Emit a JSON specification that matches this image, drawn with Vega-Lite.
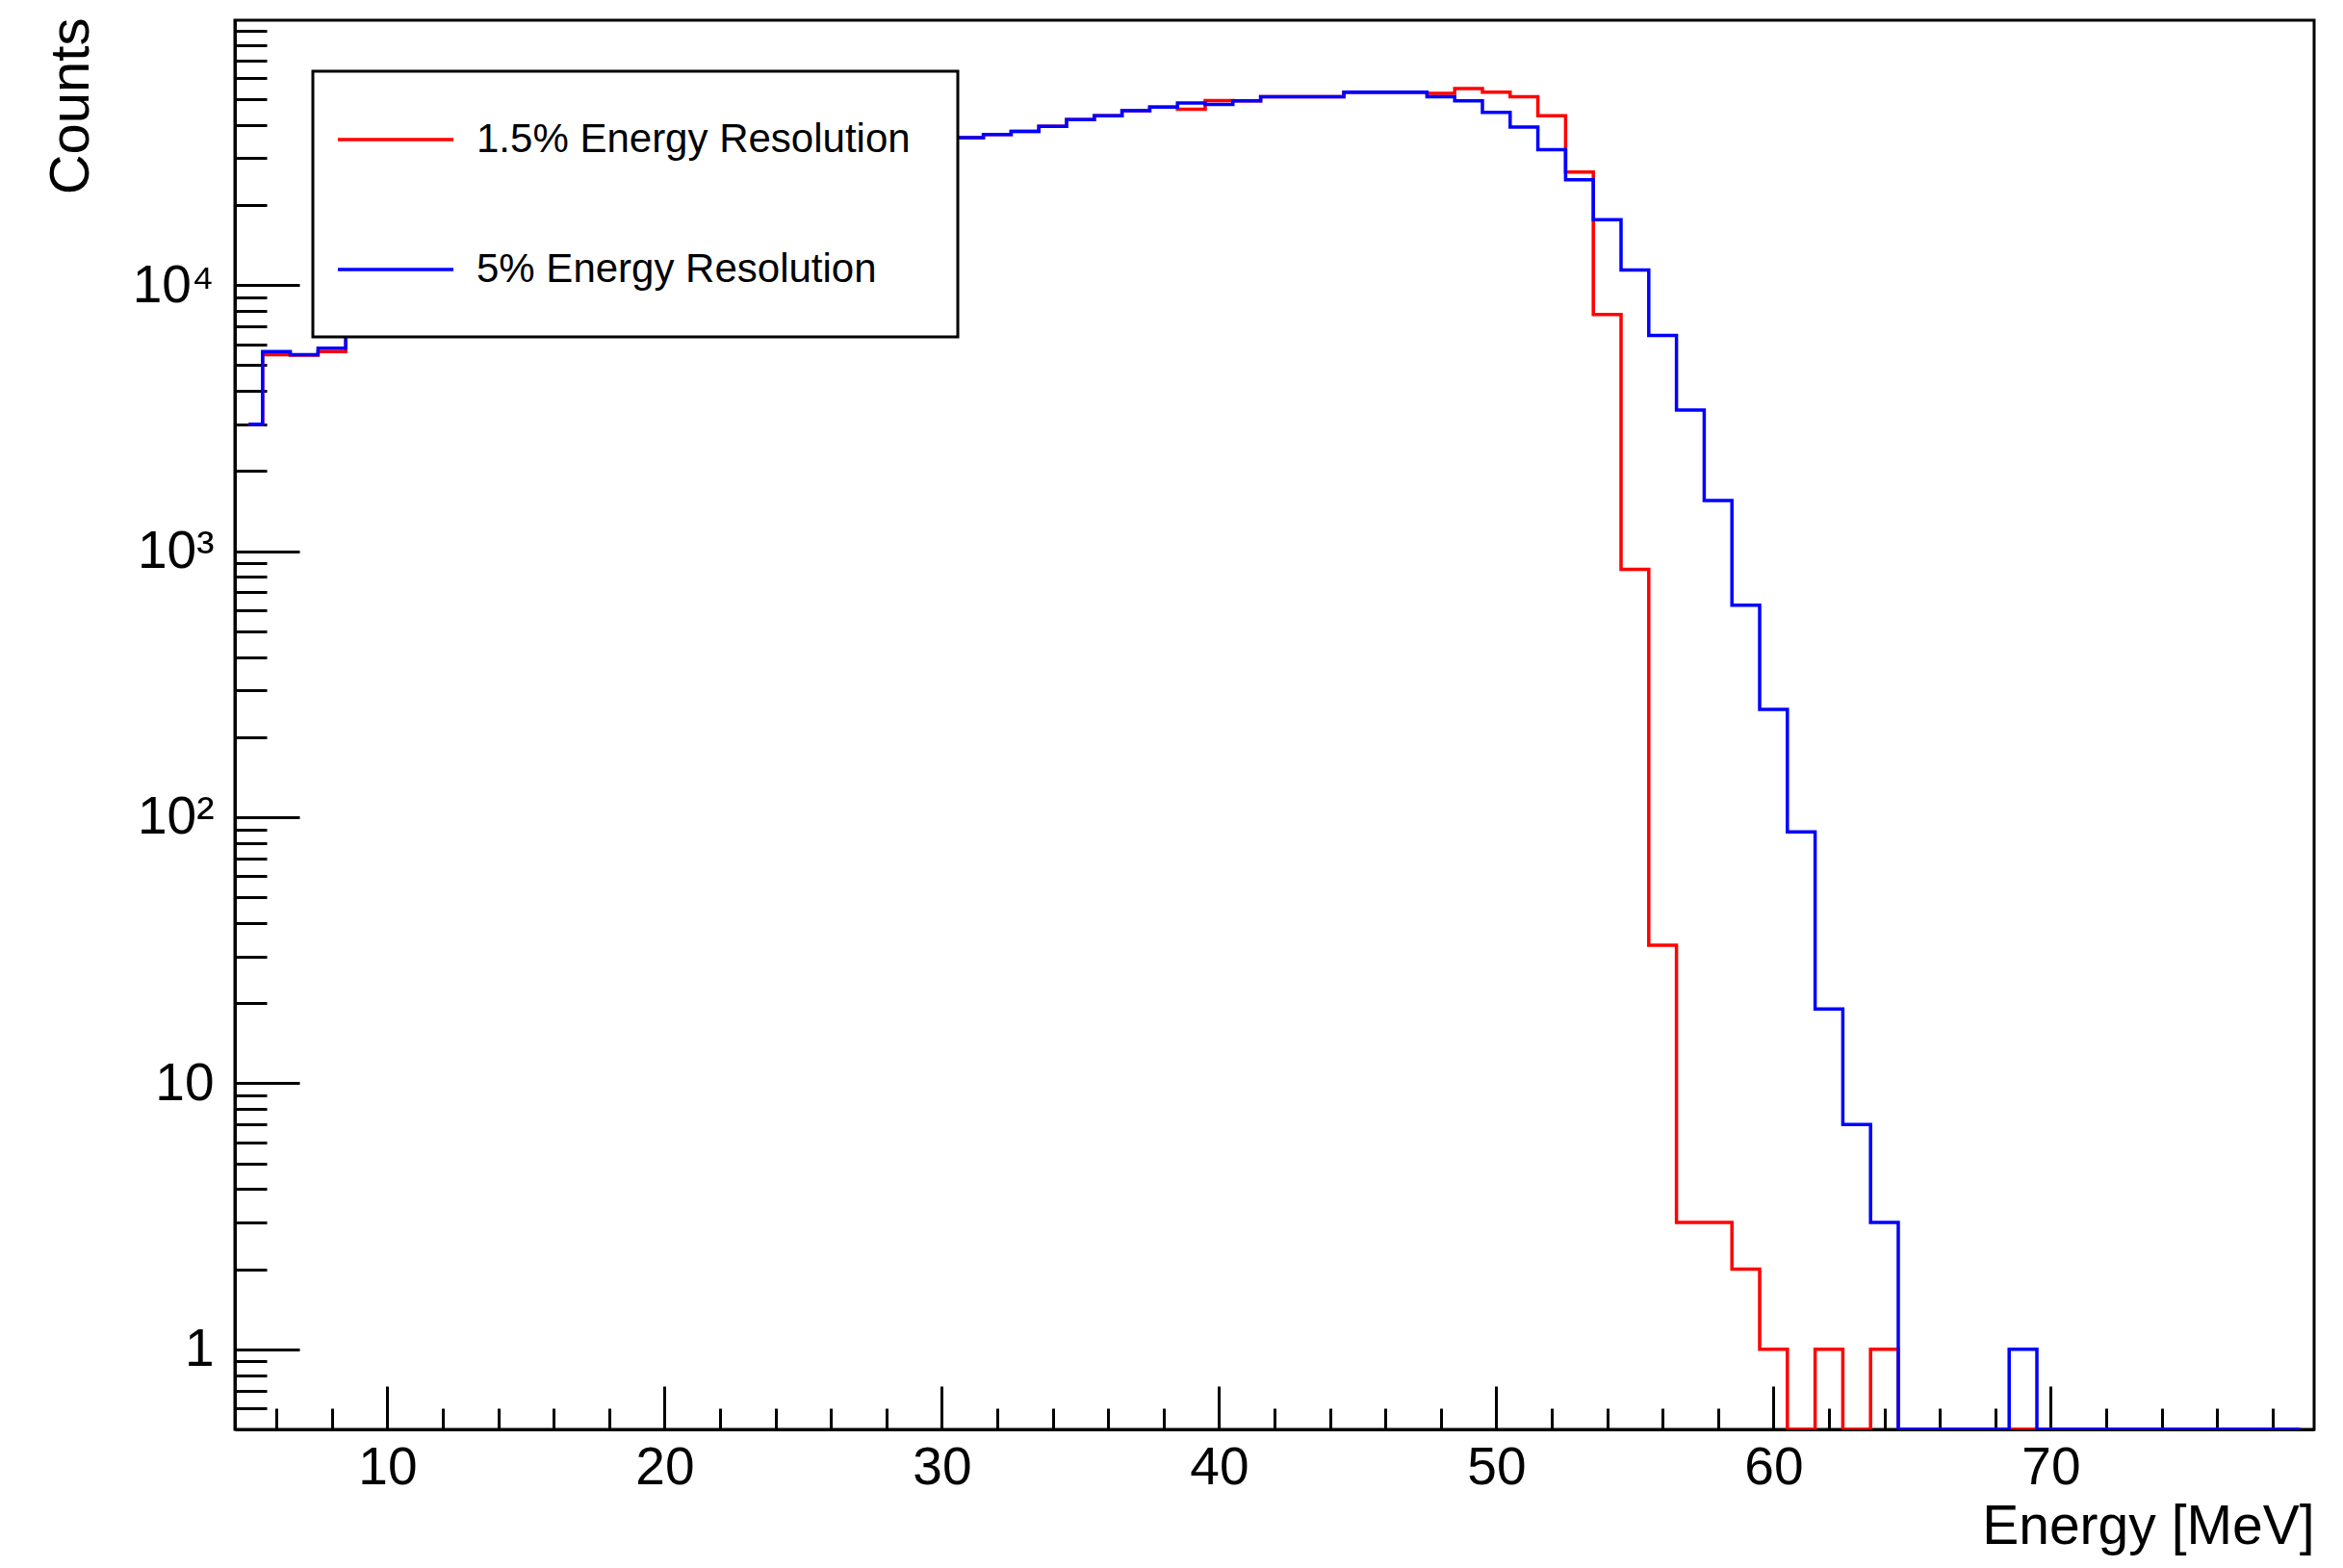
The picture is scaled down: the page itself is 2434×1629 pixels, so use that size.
{
  "$schema": "https://vega.github.io/schema/vega-lite/v6.json",
  "width": 2160,
  "height": 1464,
  "autosize": {"type": "none"},
  "padding": {"left": 244, "top": 21, "right": 30, "bottom": 144},
  "background": "white",
  "config": {
    "view": {"stroke": "black", "strokeWidth": 3},
    "font": "Liberation Sans"
  },
  "data": {
    "values": [
      {"energy":5,"counts":3000,"series":"1.5% Energy Resolution"},
      {"energy":6,"counts":5480,"series":"1.5% Energy Resolution"},
      {"energy":7,"counts":5450,"series":"1.5% Energy Resolution"},
      {"energy":8,"counts":5620,"series":"1.5% Energy Resolution"},
      {"energy":9,"counts":7600,"series":"1.5% Energy Resolution"},
      {"energy":10,"counts":8300,"series":"1.5% Energy Resolution"},
      {"energy":11,"counts":9200,"series":"1.5% Energy Resolution"},
      {"energy":12,"counts":10200,"series":"1.5% Energy Resolution"},
      {"energy":13,"counts":11400,"series":"1.5% Energy Resolution"},
      {"energy":14,"counts":12700,"series":"1.5% Energy Resolution"},
      {"energy":15,"counts":14000,"series":"1.5% Energy Resolution"},
      {"energy":16,"counts":15400,"series":"1.5% Energy Resolution"},
      {"energy":17,"counts":16800,"series":"1.5% Energy Resolution"},
      {"energy":18,"counts":18200,"series":"1.5% Energy Resolution"},
      {"energy":19,"counts":19600,"series":"1.5% Energy Resolution"},
      {"energy":20,"counts":21000,"series":"1.5% Energy Resolution"},
      {"energy":21,"counts":22400,"series":"1.5% Energy Resolution"},
      {"energy":22,"counts":23800,"series":"1.5% Energy Resolution"},
      {"energy":23,"counts":25200,"series":"1.5% Energy Resolution"},
      {"energy":24,"counts":26500,"series":"1.5% Energy Resolution"},
      {"energy":25,"counts":27800,"series":"1.5% Energy Resolution"},
      {"energy":26,"counts":29100,"series":"1.5% Energy Resolution"},
      {"energy":27,"counts":30400,"series":"1.5% Energy Resolution"},
      {"energy":28,"counts":31600,"series":"1.5% Energy Resolution"},
      {"energy":29,"counts":32800,"series":"1.5% Energy Resolution"},
      {"energy":30,"counts":34200,"series":"1.5% Energy Resolution"},
      {"energy":31,"counts":35800,"series":"1.5% Energy Resolution"},
      {"energy":32,"counts":36800,"series":"1.5% Energy Resolution"},
      {"energy":33,"counts":37800,"series":"1.5% Energy Resolution"},
      {"energy":34,"counts":39500,"series":"1.5% Energy Resolution"},
      {"energy":35,"counts":41900,"series":"1.5% Energy Resolution"},
      {"energy":36,"counts":43300,"series":"1.5% Energy Resolution"},
      {"energy":37,"counts":45200,"series":"1.5% Energy Resolution"},
      {"energy":38,"counts":46700,"series":"1.5% Energy Resolution"},
      {"energy":39,"counts":45800,"series":"1.5% Energy Resolution"},
      {"energy":40,"counts":49400,"series":"1.5% Energy Resolution"},
      {"energy":41,"counts":49300,"series":"1.5% Energy Resolution"},
      {"energy":42,"counts":51100,"series":"1.5% Energy Resolution"},
      {"energy":43,"counts":51100,"series":"1.5% Energy Resolution"},
      {"energy":44,"counts":51100,"series":"1.5% Energy Resolution"},
      {"energy":45,"counts":53000,"series":"1.5% Energy Resolution"},
      {"energy":46,"counts":53000,"series":"1.5% Energy Resolution"},
      {"energy":47,"counts":53000,"series":"1.5% Energy Resolution"},
      {"energy":48,"counts":52600,"series":"1.5% Energy Resolution"},
      {"energy":49,"counts":54800,"series":"1.5% Energy Resolution"},
      {"energy":50,"counts":53100,"series":"1.5% Energy Resolution"},
      {"energy":51,"counts":51100,"series":"1.5% Energy Resolution"},
      {"energy":52,"counts":43300,"series":"1.5% Energy Resolution"},
      {"energy":53,"counts":26600,"series":"1.5% Energy Resolution"},
      {"energy":54,"counts":7750,"series":"1.5% Energy Resolution"},
      {"energy":55,"counts":855,"series":"1.5% Energy Resolution"},
      {"energy":56,"counts":33,"series":"1.5% Energy Resolution"},
      {"energy":57,"counts":3,"series":"1.5% Energy Resolution"},
      {"energy":58,"counts":3,"series":"1.5% Energy Resolution"},
      {"energy":59,"counts":2,"series":"1.5% Energy Resolution"},
      {"energy":60,"counts":1,"series":"1.5% Energy Resolution"},
      {"energy":61,"counts":0,"series":"1.5% Energy Resolution"},
      {"energy":62,"counts":1,"series":"1.5% Energy Resolution"},
      {"energy":63,"counts":0,"series":"1.5% Energy Resolution"},
      {"energy":64,"counts":1,"series":"1.5% Energy Resolution"},
      {"energy":65,"counts":0,"series":"1.5% Energy Resolution"},
      {"energy":66,"counts":0,"series":"1.5% Energy Resolution"},
      {"energy":67,"counts":0,"series":"1.5% Energy Resolution"},
      {"energy":68,"counts":0,"series":"1.5% Energy Resolution"},
      {"energy":69,"counts":0,"series":"1.5% Energy Resolution"},
      {"energy":70,"counts":0,"series":"1.5% Energy Resolution"},
      {"energy":71,"counts":0,"series":"1.5% Energy Resolution"},
      {"energy":72,"counts":0,"series":"1.5% Energy Resolution"},
      {"energy":73,"counts":0,"series":"1.5% Energy Resolution"},
      {"energy":74,"counts":0,"series":"1.5% Energy Resolution"},
      {"energy":75,"counts":0,"series":"1.5% Energy Resolution"},
      {"energy":76,"counts":0,"series":"1.5% Energy Resolution"},
      {"energy":77,"counts":0,"series":"1.5% Energy Resolution"},
      {"energy":78,"counts":0,"series":"1.5% Energy Resolution"},
      {"energy":79,"counts":0,"series":"1.5% Energy Resolution"},
      {"energy":5,"counts":3000,"series":"5% Energy Resolution"},
      {"energy":6,"counts":5620,"series":"5% Energy Resolution"},
      {"energy":7,"counts":5470,"series":"5% Energy Resolution"},
      {"energy":8,"counts":5790,"series":"5% Energy Resolution"},
      {"energy":9,"counts":7600,"series":"5% Energy Resolution"},
      {"energy":10,"counts":8300,"series":"5% Energy Resolution"},
      {"energy":11,"counts":9200,"series":"5% Energy Resolution"},
      {"energy":12,"counts":10200,"series":"5% Energy Resolution"},
      {"energy":13,"counts":11400,"series":"5% Energy Resolution"},
      {"energy":14,"counts":12700,"series":"5% Energy Resolution"},
      {"energy":15,"counts":14000,"series":"5% Energy Resolution"},
      {"energy":16,"counts":15400,"series":"5% Energy Resolution"},
      {"energy":17,"counts":16800,"series":"5% Energy Resolution"},
      {"energy":18,"counts":18200,"series":"5% Energy Resolution"},
      {"energy":19,"counts":19600,"series":"5% Energy Resolution"},
      {"energy":20,"counts":21000,"series":"5% Energy Resolution"},
      {"energy":21,"counts":22400,"series":"5% Energy Resolution"},
      {"energy":22,"counts":23800,"series":"5% Energy Resolution"},
      {"energy":23,"counts":25200,"series":"5% Energy Resolution"},
      {"energy":24,"counts":26500,"series":"5% Energy Resolution"},
      {"energy":25,"counts":27800,"series":"5% Energy Resolution"},
      {"energy":26,"counts":29100,"series":"5% Energy Resolution"},
      {"energy":27,"counts":30400,"series":"5% Energy Resolution"},
      {"energy":28,"counts":31600,"series":"5% Energy Resolution"},
      {"energy":29,"counts":32800,"series":"5% Energy Resolution"},
      {"energy":30,"counts":34200,"series":"5% Energy Resolution"},
      {"energy":31,"counts":35800,"series":"5% Energy Resolution"},
      {"energy":32,"counts":36800,"series":"5% Energy Resolution"},
      {"energy":33,"counts":37800,"series":"5% Energy Resolution"},
      {"energy":34,"counts":39500,"series":"5% Energy Resolution"},
      {"energy":35,"counts":41900,"series":"5% Energy Resolution"},
      {"energy":36,"counts":43300,"series":"5% Energy Resolution"},
      {"energy":37,"counts":45200,"series":"5% Energy Resolution"},
      {"energy":38,"counts":46700,"series":"5% Energy Resolution"},
      {"energy":39,"counts":48400,"series":"5% Energy Resolution"},
      {"energy":40,"counts":47800,"series":"5% Energy Resolution"},
      {"energy":41,"counts":49300,"series":"5% Energy Resolution"},
      {"energy":42,"counts":51100,"series":"5% Energy Resolution"},
      {"energy":43,"counts":51100,"series":"5% Energy Resolution"},
      {"energy":44,"counts":51100,"series":"5% Energy Resolution"},
      {"energy":45,"counts":53100,"series":"5% Energy Resolution"},
      {"energy":46,"counts":53100,"series":"5% Energy Resolution"},
      {"energy":47,"counts":53100,"series":"5% Energy Resolution"},
      {"energy":48,"counts":51100,"series":"5% Energy Resolution"},
      {"energy":49,"counts":49300,"series":"5% Energy Resolution"},
      {"energy":50,"counts":44600,"series":"5% Energy Resolution"},
      {"energy":51,"counts":39300,"series":"5% Energy Resolution"},
      {"energy":52,"counts":32300,"series":"5% Energy Resolution"},
      {"energy":53,"counts":24900,"series":"5% Energy Resolution"},
      {"energy":54,"counts":17600,"series":"5% Energy Resolution"},
      {"energy":55,"counts":11400,"series":"5% Energy Resolution"},
      {"energy":56,"counts":6470,"series":"5% Energy Resolution"},
      {"energy":57,"counts":3390,"series":"5% Energy Resolution"},
      {"energy":58,"counts":1550,"series":"5% Energy Resolution"},
      {"energy":59,"counts":627,"series":"5% Energy Resolution"},
      {"energy":60,"counts":254,"series":"5% Energy Resolution"},
      {"energy":61,"counts":88,"series":"5% Energy Resolution"},
      {"energy":62,"counts":19,"series":"5% Energy Resolution"},
      {"energy":63,"counts":7,"series":"5% Energy Resolution"},
      {"energy":64,"counts":3,"series":"5% Energy Resolution"},
      {"energy":65,"counts":0,"series":"5% Energy Resolution"},
      {"energy":66,"counts":0,"series":"5% Energy Resolution"},
      {"energy":67,"counts":0,"series":"5% Energy Resolution"},
      {"energy":68,"counts":0,"series":"5% Energy Resolution"},
      {"energy":69,"counts":1,"series":"5% Energy Resolution"},
      {"energy":70,"counts":0,"series":"5% Energy Resolution"},
      {"energy":71,"counts":0,"series":"5% Energy Resolution"},
      {"energy":72,"counts":0,"series":"5% Energy Resolution"},
      {"energy":73,"counts":0,"series":"5% Energy Resolution"},
      {"energy":74,"counts":0,"series":"5% Energy Resolution"},
      {"energy":75,"counts":0,"series":"5% Energy Resolution"},
      {"energy":76,"counts":0,"series":"5% Energy Resolution"},
      {"energy":77,"counts":0,"series":"5% Energy Resolution"},
      {"energy":78,"counts":0,"series":"5% Energy Resolution"},
      {"energy":79,"counts":0,"series":"5% Energy Resolution"}
    ]
  },
  "resolve": {"axis": {"x": "independent", "y": "independent"}},
  "layer": [
    {
      "transform": [{"filter": {"field": "series", "equal": "1.5% Energy Resolution"}}],
      "mark": {"type": "line", "interpolate": "step", "strokeWidth": 3.5, "clip": true},
      "encoding": {
        "x": {
          "field": "energy", "type": "quantitative",
          "scale": {"domain": [4.5, 79.5], "nice": false, "zero": false},
          "axis": {
            "orient": "bottom",
            "values": [10, 20, 30, 40, 50, 60, 70],
            "tickSize": -45, "tickWidth": 3, "tickColor": "black",
            "domainColor": "black", "domainWidth": 3,
            "grid": false,
            "labelFont": "Liberation Sans", "labelFontSize": 55, "labelColor": "black",
            "labelPadding": 58, "labelFlush": false, "labelOverlap": false,
            "title": "Energy [MeV]",
            "titleFont": "Liberation Sans", "titleFontSize": 57, "titleFontWeight": "normal", "titleColor": "black",
            "titleAnchor": "end", "titleAlign": "right", "titleBaseline": "alphabetic",
            "titleX": 2160, "titleY": 118
          }
        },
        "y": {
          "field": "counts", "type": "quantitative",
          "scale": {"type": "log", "domain": [0.5, 99000], "nice": false, "clamp": true},
          "axis": {
            "orient": "left",
            "values": [1, 10, 100, 1000, 10000],
            "labelExpr": "datum.value == 1 ? '1' : datum.value == 10 ? '10' : datum.value == 100 ? '10²' : datum.value == 1000 ? '10³' : '10⁴'",
            "tickSize": -67, "tickWidth": 3, "tickColor": "black",
            "domainColor": "black", "domainWidth": 3,
            "grid": false,
            "labelFont": "Liberation Sans", "labelFontSize": 55, "labelColor": "black",
            "labelPadding": 89, "labelFlush": false, "labelOverlap": false,
            "title": "Counts",
            "titleFont": "Liberation Sans", "titleFontSize": 58, "titleFontWeight": "normal", "titleColor": "black",
            "titleAngle": -90, "titleAnchor": "end", "titleAlign": "right", "titleBaseline": "alphabetic",
            "titleX": -153, "titleY": -3
          }
        },
        "color": {
          "field": "series", "type": "nominal",
          "scale": {"domain": ["1.5% Energy Resolution", "5% Energy Resolution"], "range": ["#ff0000", "#0000ff"]},
          "legend": {
            "orient": "none", "legendX": 81, "legendY": 53,
            "title": null,
            "strokeColor": "black", "fillColor": "white",
            "padding": 49,
            "symbolType": "M-2.963,0H2.963", "symbolSize": 1640, "symbolStrokeWidth": 3.5, "symbolOffset": 15,
            "labelFont": "Liberation Sans", "labelFontSize": 42, "labelColor": "black", "labelOffset": 62,
            "labelLimit": 2000,
            "rowPadding": 92,
            "encode": {"legend": {"update": {"strokeWidth": {"value": 3}}}}
          }
        }
      }
    },
    {
      "transform": [{"filter": {"field": "series", "equal": "5% Energy Resolution"}}],
      "mark": {"type": "line", "interpolate": "step", "strokeWidth": 3.5, "clip": true},
      "encoding": {
        "x": {
          "field": "energy", "type": "quantitative",
          "axis": {
            "orient": "bottom",
            "values": [6, 8, 12, 14, 16, 18, 22, 24, 26, 28, 32, 34, 36, 38, 42, 44, 46, 48, 52, 54, 56, 58, 62, 64, 66, 68, 72, 74, 76, 78],
            "tickSize": -22, "tickWidth": 3, "tickColor": "black",
            "domain": false, "labels": false, "grid": false, "title": null
          }
        },
        "y": {
          "field": "counts", "type": "quantitative",
          "axis": {
            "orient": "left",
            "values": [0.6, 0.7, 0.8, 0.9, 2, 3, 4, 5, 6, 7, 8, 9, 20, 30, 40, 50, 60, 70, 80, 90, 200, 300, 400, 500, 600, 700, 800, 900, 2000, 3000, 4000, 5000, 6000, 7000, 8000, 9000, 20000, 30000, 40000, 50000, 60000, 70000, 80000, 90000],
            "tickSize": -33, "tickWidth": 3, "tickColor": "black",
            "domain": false, "labels": false, "grid": false, "title": null
          }
        },
        "color": {"field": "series", "type": "nominal"}
      }
    }
  ]
}
